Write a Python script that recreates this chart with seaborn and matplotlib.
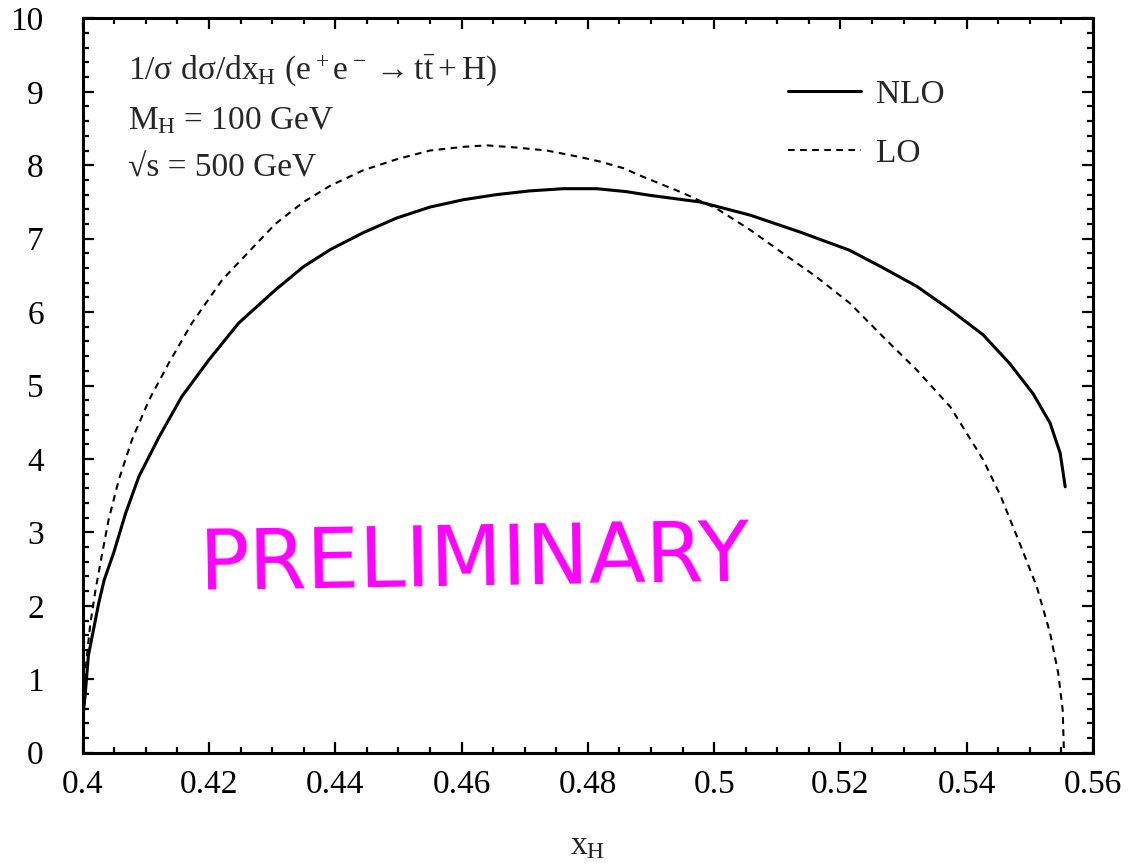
import numpy as np
import pandas as pd
import seaborn as sns
import matplotlib.pyplot as plt
from matplotlib.ticker import MultipleLocator

# NLO (solid) and LO (dashed) distributions
nlo_x = [0.4000, 0.4004, 0.4009, 0.4025, 0.4034, 0.4049, 0.4068, 0.4089, 0.4121,
         0.4157, 0.4200, 0.4247, 0.4305, 0.4350, 0.4392, 0.4444, 0.4497, 0.4550,
         0.4603, 0.4656, 0.4708, 0.4761, 0.4814, 0.4861, 0.4898, 0.4977, 0.5057,
         0.5136, 0.5215, 0.5268, 0.5321, 0.5374, 0.5426, 0.5468, 0.5505, 0.5532,
         0.5548, 0.5556]
nlo_y = [0.45, 0.79, 1.32, 2.02, 2.35, 2.72, 3.26, 3.76, 4.30,
         4.85, 5.35, 5.85, 6.30, 6.62, 6.85, 7.08, 7.28, 7.43,
         7.53, 7.60, 7.65, 7.68, 7.68, 7.64, 7.59, 7.50, 7.32,
         7.09, 6.84, 6.60, 6.35, 6.03, 5.69, 5.30, 4.89, 4.49,
         4.08, 3.62]

lo_x = [0.4000, 0.4003, 0.4006, 0.4012, 0.4020, 0.4028, 0.4041, 0.4057, 0.4078,
        0.4105, 0.4136, 0.4173, 0.4221, 0.4305, 0.4350, 0.4392, 0.4444, 0.4497,
        0.4550, 0.4603, 0.4640, 0.4687, 0.4735, 0.4788, 0.4819, 0.4856, 0.4888,
        0.4951, 0.5004, 0.5057, 0.5109, 0.5162, 0.5215, 0.5268, 0.5321, 0.5374,
        0.5426, 0.5453, 0.5484, 0.5511, 0.5532, 0.5545, 0.5552, 0.5554]
lo_y = [0.00, 0.80, 1.26, 1.75, 2.20, 2.58, 3.17, 3.71, 4.26,
        4.80, 5.30, 5.85, 6.44, 7.20, 7.50, 7.72, 7.93, 8.08,
        8.20, 8.25, 8.27, 8.24, 8.20, 8.11, 8.05, 7.96, 7.84,
        7.62, 7.41, 7.12, 6.80, 6.48, 6.12, 5.66, 5.21, 4.71,
        3.99, 3.51, 2.85, 2.26, 1.63, 1.08, 0.58, 0.00]

x_ticks = [0.40, 0.42, 0.44, 0.46, 0.48, 0.50, 0.52, 0.54, 0.56]
x_tick_labels = ['0.4', '0.42', '0.44', '0.46', '0.48', '0.5', '0.52', '0.54', '0.56']
y_ticks = [0, 1, 2, 3, 4, 5, 6, 7, 8, 9, 10]

sns.set_style('ticks')
plt.rcParams['font.family'] = ['Liberation Serif', 'DejaVu Serif']
plt.rcParams['mathtext.fontset'] = 'custom'
plt.rcParams['mathtext.rm'] = 'Liberation Serif'
plt.rcParams['mathtext.it'] = 'Liberation Serif'
plt.rcParams['mathtext.bf'] = 'Liberation Serif:bold'

fig = plt.figure(figsize=(11.31, 8.64), dpi=100)
ax = fig.add_axes([0.0731, 0.1288, 0.8933, 0.85])

sns.lineplot(x=nlo_x, y=nlo_y, ax=ax, color='black', lw=2.2, label='NLO')
sns.lineplot(x=lo_x, y=lo_y, ax=ax, color='black', lw=1.5,
             linestyle=(0, (3.2, 2.6)), label='LO')

ax.set_xlim(0.4, 0.56)
ax.set_ylim(0, 10)
ax.set_xticks(x_ticks)
ax.set_xticklabels(x_tick_labels)
ax.set_yticks(y_ticks)
ax.xaxis.set_minor_locator(MultipleLocator(0.005))
ax.yaxis.set_minor_locator(MultipleLocator(0.2))
ax.tick_params(which='both', direction='in', top=True, right=True,
               color='black', width=1.6, labelsize=24, labelcolor='black')
ax.tick_params(which='major', length=8)
ax.tick_params(which='minor', length=4)
ax.tick_params(axis='y', pad=28)
ax.tick_params(axis='x', pad=12)
for s in ax.spines.values():
    s.set_linewidth(2.2)
    s.set_color('black')

ax.set_xlabel(r'$x_H$', fontsize=24, labelpad=22)
ax.set_ylabel('')

ax.text(0.045, 0.93, r'$1/\sigma\ d\sigma/dx_H\ (e^+e^-\rightarrow t\bar{t}+H)$',
        transform=ax.transAxes, fontsize=24, va='center', ha='left')
ax.text(0.045, 0.861, r'$M_H$ = 100 GeV', transform=ax.transAxes,
        fontsize=24, va='center', ha='left')
ax.text(0.045, 0.796, '\u221as = 500 GeV', transform=ax.transAxes,
        fontsize=24, va='center', ha='left')

ax.text(0.388, 0.26, 'PRELIMINARY', transform=ax.transAxes, fontsize=60,
        color='#ff00ff', ha='center', va='center', rotation=1,
        family=['DejaVu Sans'])

leg = ax.legend(loc='upper left', bbox_to_anchor=(0.698, 0.917), frameon=False,
                fontsize=24, handlelength=2.2, handletextpad=0.45,
                labelspacing=0.85, borderpad=0, borderaxespad=0)

fig.savefig('out.png', dpi=100)
